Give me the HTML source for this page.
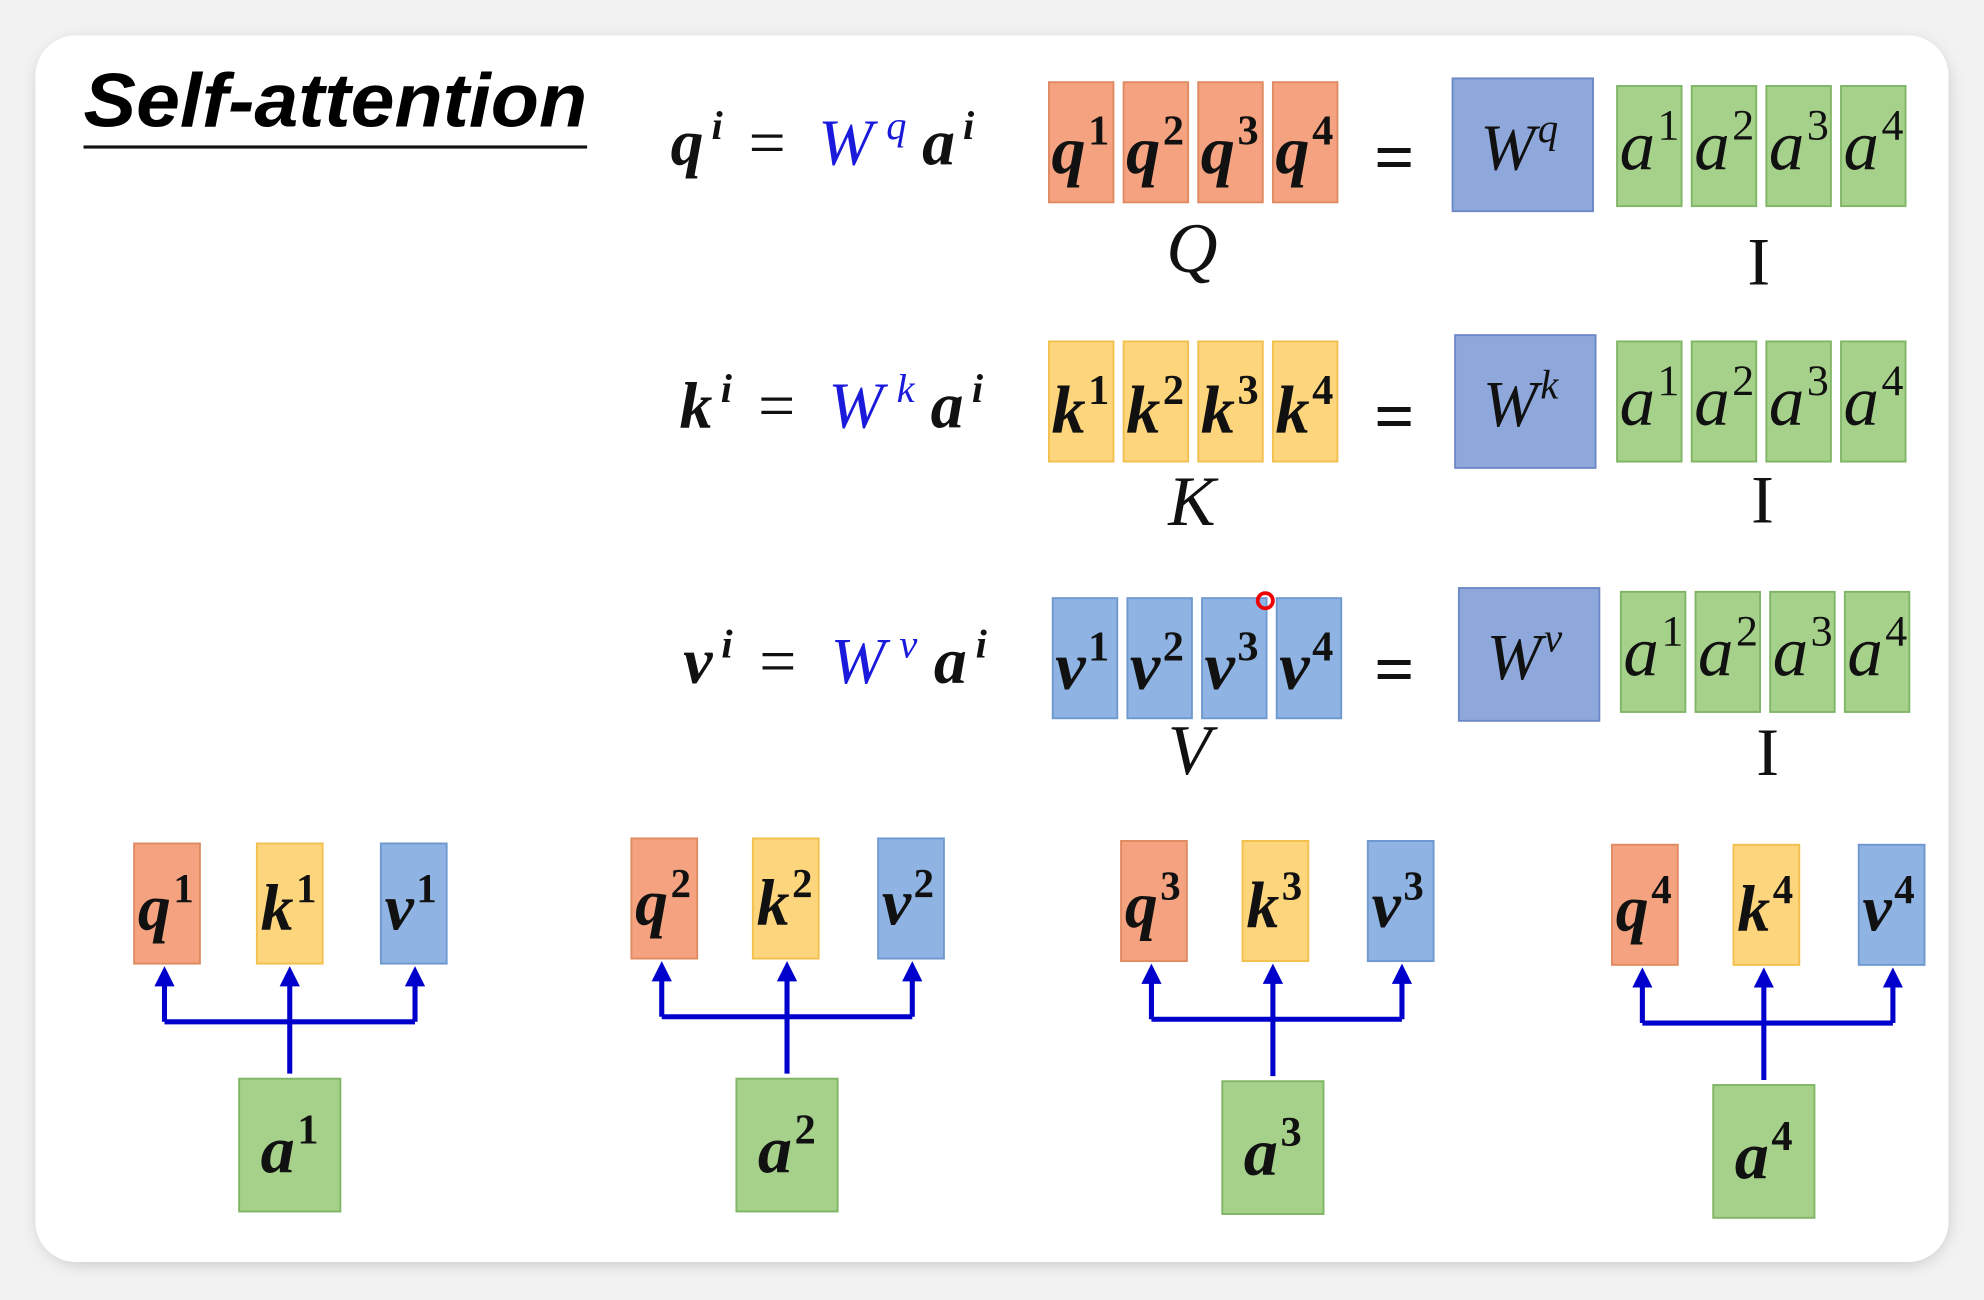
<!DOCTYPE html>
<html><head><meta charset="utf-8"><style>
html,body{margin:0;padding:0;width:1984px;height:1300px;overflow:hidden;background:#efefef}
svg{display:block}
text{font-family:"Liberation Serif","DejaVu Serif",serif}
</style></head><body>
<svg id="s" width="1984" height="1300" viewBox="0 0 1568 1028" preserveAspectRatio="none" xmlns="http://www.w3.org/2000/svg">
<defs>
<filter id="sh" x="-5%" y="-5%" width="110%" height="110%"><feGaussianBlur stdDeviation="6"/></filter>
<marker id="ah" markerWidth="4" markerHeight="4" refX="2" refY="2" orient="auto" markerUnits="strokeWidth"><path d="M0,0 L4,2 L0,4 z" fill="#0000cc"/></marker>
</defs>
<rect x="0" y="0" width="1568" height="1028" fill="#f2f2f2"/>
<rect x="30" y="32" width="1510" height="968" rx="34" fill="#c8c8c8" filter="url(#sh)"/>
<rect x="28" y="28" width="1512" height="970" rx="32" fill="#ffffff"/>
<text x="66" y="100" font-weight="bold" font-style="italic" font-size="60" textLength="398" lengthAdjust="spacingAndGlyphs" style="font-family:'Liberation Sans',sans-serif">Self-attention</text>
<rect x="66" y="115" width="398" height="2.5" fill="#111"/>
<g id="g"></g>
</svg>
<script>
const NS="http://www.w3.org/2000/svg";
const g=document.getElementById('g');
function el(t,a,p){const e=document.createElementNS(NS,t);for(const k in a)e.setAttribute(k,a[k]);(p||g).appendChild(e);return e;}
const COL={q:['#f4a27f','#e08a62'],k:['#fdd57c','#f2c04e'],v:['#8fb4e3','#6e98cf'],a:['#a6d18b','#80b566'],w:['#8ea8dc','#6c88c6']};
function box(x,y,w,h,c,name){const r=el('rect',{x:x,y:y,width:w,height:h,fill:COL[c][0],stroke:COL[c][1],'stroke-width':1.5});


return r;}
function lab(x,y,base,sup,size,bold,name,color){const t=el('text',{x:x,y:y,'font-size':size,'font-style':'italic','font-weight':bold?'bold':'normal',fill:color||'#111'});


t.textContent=base;const s=el('tspan',{dx:2,dy:-size*0.42,'font-size':size*0.62,'font-style':/[0-9]/.test(sup)?'normal':'italic'},t);s.textContent=sup;return t;}
// equations
const eqs=[['q','q',130,530],['k','k',338,537],['v','v',540,540]];
eqs.forEach(([b,s,y,x])=>{
 const t=el('text',{x:x,y:y,'font-size':52,'font-style':'italic','font-weight':'bold',fill:'#111',textLength:240,lengthAdjust:'spacing'});
 
 
 t.textContent=b;
 let sp=el('tspan',{dy:-20,'font-size':32},t);sp.textContent='i';
 sp=el('tspan',{dy:20,dx:14,'font-weight':'normal','font-style':'normal'},t);sp.textContent='= ';
 sp=el('tspan',{fill:'#1a1adc','font-weight':'normal'},t);sp.textContent='W';
 sp=el('tspan',{dy:-20,dx:4,'font-size':32,fill:'#1a1adc','font-weight':'normal'},t);sp.textContent=s;
 sp=el('tspan',{dy:20,dx:6},t);sp.textContent='a';
 sp=el('tspan',{dy:-20,'font-size':32},t);sp.textContent='i';
});
// matrix rows
const rows=[{c:'q',x:829,y:65,L:'Q',lx:942,ly:215,wx:1148,wy:62,ax:1278,ay:68,ix:1390,iy:225,ey:125},
{c:'k',x:829,y:270,L:'K',lx:942,ly:415,wx:1150,wy:265,ax:1278,ay:270,ix:1393,iy:413,ey:330},
{c:'v',x:832,y:473,L:'V',lx:940,ly:612,wx:1153,wy:465,ax:1281,ay:468,ix:1397,iy:613,ey:530}];
rows.forEach(r=>{
 for(let i=0;i<4;i++){const x=r.x+i*59;box(x,r.y,51,95,r.c,r.c+(i+1)+'-matrix-box');lab(x+2,r.y+72,r.c,String(i+1),54,true,r.c+(i+1)+'-label');}
 let t=el('text',{x:r.lx,y:r.ly,'font-size':56,'font-style':'italic','text-anchor':'middle',fill:'#111'});
 
 
 t.textContent=r.L;
 t=el('text',{x:1102,y:r.ey+18,'font-size':56,'font-weight':'bold','text-anchor':'middle',fill:'#111'});
 
 
 t.textContent='=';
 box(r.wx,r.wy,111,105,'w','w'+r.c+'-box');
 lab(r.wx+22,r.wy+72,'W',r.c,52,false,'w'+r.c+'-label');
 for(let i=0;i<4;i++){const x=r.ax+i*59;box(x,r.ay,51,95,'a','a'+(i+1)+'-matrix-box-'+r.c);lab(x+2,r.ay+66,'a',String(i+1),56,false,'a'+(i+1)+'-label-'+r.c);}
 t=el('text',{x:r.ix,y:r.iy,'font-size':54,'text-anchor':'middle',fill:'#111'});
 
 
 t.textContent='I';
});
// bottom groups
const grp=[{ax:189,ay:853,q:106,k:203,v:301,y:667},{ax:582,ay:853,q:499,k:595,v:694,y:663},{ax:966,ay:855,q:886,k:982,v:1081,y:665},{ax:1354,ay:858,q:1274,k:1370,v:1469,y:668}];
grp.forEach((G,i)=>{
 const n=String(i+1);
 ['q','k','v'].forEach(c=>{box(G[c],G.y,52,95,c,c+n+'-box');lab(G[c]+3,G.y+68,c,n,52,true,c+n+'-label');});
 box(G.ax,G.ay,80,105,'a','a'+n+'-box');lab(G.ax+17,G.ay+74,'a',n,54,true,'a'+n+'-label');
 const hy=G.y+141,cx=G.ax+40;
 const p=el('path',{d:`M${cx} ${G.ay-4} V${hy} M${G.q+24} ${hy} H${G.v+27}`,stroke:'#0000cc','stroke-width':4,fill:'none'});
 
 
 [[G.q+24],[cx],[G.v+27]].forEach(([x],j)=>{const a=el('line',{x1:x,y1:hy,x2:x,y2:G.y+105,stroke:'#0000cc','stroke-width':4,'marker-end':'url(#ah)'});
 
 });
});
const dot=el('circle',{cx:1000,cy:475,r:6,fill:'none',stroke:'#e00','stroke-width':3});


</script>
</body></html>
